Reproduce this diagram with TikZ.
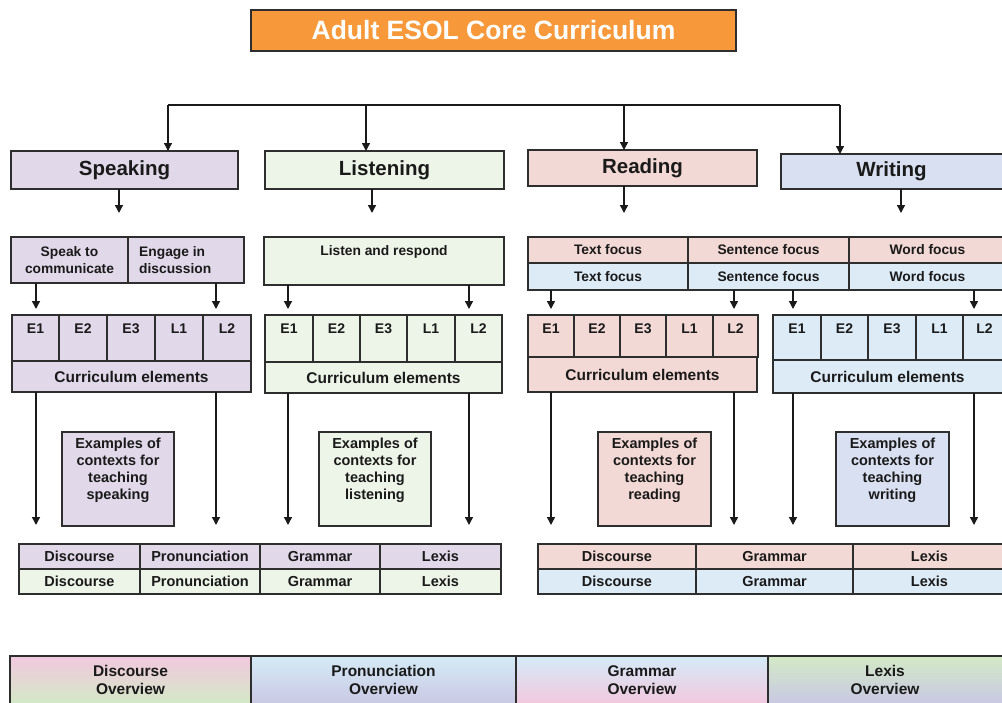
\documentclass[tikz,border=0pt]{standalone}
\usepackage{fontspec}
\setmainfont{Liberation Sans}
\usetikzlibrary{arrows.meta,fit}

\definecolor{ink}{HTML}{1A1A1A}
\definecolor{frame}{HTML}{2E2E2E}
\definecolor{orangeT}{HTML}{F7993A}
\definecolor{lav}{HTML}{E1D9EA}
\definecolor{mint}{HTML}{EDF5E9}
\definecolor{rose}{HTML}{F3D9D5}
\definecolor{peri}{HTML}{D9E0F1}
\definecolor{sky}{HTML}{DDEBF7}
\definecolor{gPink}{HTML}{F2C8DE}
\definecolor{gGreen}{HTML}{D3E9C6}
\definecolor{gSky}{HTML}{D5EBF7}
\definecolor{gLav}{HTML}{C9C8E3}

\tikzset{
  box/.style={draw=frame, line width=1.1pt, inner sep=0pt, outer sep=0pt},
  txt/.style={inner sep=0pt, text=ink, align=center},
  headtxt/.style={txt, font=\fontsize{20.5}{24}\selectfont\bfseries},
  subtxt/.style={txt, font=\fontsize{13.8}{17}\selectfont\bfseries},
  lvl/.style={txt, font=\fontsize{14}{16}\selectfont\bfseries},
  cetxt/.style={txt, font=\fontsize{15.5}{18}\selectfont\bfseries},
  extxt/.style={txt, font=\fontsize{14.5}{17}\selectfont\bfseries},
  tabtxt/.style={txt, font=\fontsize{14.5}{17}\selectfont\bfseries},
  ovtxt/.style={txt, font=\fontsize{15.5}{18}\selectfont\bfseries},
  arr/.style={draw=ink, line width=1.4pt, -{Triangle[width=8pt,length=8pt]}},
  bus/.style={draw=ink, line width=1.4pt}
}

\begin{document}
\begin{tikzpicture}[x=1pt, y=-1pt]
\useasboundingbox (0,0) rectangle (1002,702);
\fill[white] (0,0) rectangle (1002,702);

% title
\node[box, fill=orangeT, fit={(251,10)(736,51)}] (title) {};
\node[txt, text=white, font=\fontsize{26.5}{30}\selectfont\bfseries] at (title) {Adult ESOL Core Curriculum};

% the four skills
\node[box, fill=lav,  fit={(11,151)(238,189)}]   (speak)  {};
\node[box, fill=mint, fit={(265,151)(504,189)}]  (listen) {};
\node[box, fill=rose, fit={(528,150)(757,186)}]  (read)   {};
\node[box, fill=peri, fit={(781,154)(1006,189)}] (write)  {};
\node[headtxt] at (speak)  {Speaking};
\node[headtxt] at (listen) {Listening};
\node[headtxt] at (read)   {Reading};
\node[headtxt] at ([xshift=-2pt]write.center) {Writing};

% distribution bus
\coordinate (busL) at (168,105);
\coordinate (busR) at (840,105);
\coordinate (busS) at (366,105);
\coordinate (busR2) at (624,105);
\draw[bus] (busL) -- (busR);
\draw[arr] (busL)  -- (speak.north -| busL);
\draw[arr] (busS)  -- (listen.north -| busS);
\draw[arr] (busR2) -- (read.north -| busR2);
\draw[arr] (busR)  -- (write.north -| busR);

% skill -> strand arrows
\coordinate (hs) at (119,213);
\coordinate (hl) at (372,213);
\coordinate (hr) at (624,213);
\coordinate (hw) at (901,213);
\draw[arr] (speak.south -| hs)  -- (hs);
\draw[arr] (listen.south -| hl) -- (hl);
\draw[arr] (read.south -| hr)   -- (hr);
\draw[arr] (write.south -| hw)  -- (hw);

% strands
\node[box, fill=lav, fit={(11,237)(128,283)}]  (spA) {};
\node[box, fill=lav, fit={(128,237)(244,283)}] (spB) {};
\node[subtxt] at (spA) {Speak to\\communicate};
\node[subtxt, anchor=west, align=left] at (139,260) {Engage in\\discussion};
\node[box, fill=mint, fit={(264,237)(504,285)}] (liA) {};
\node[subtxt] at (384,252) {Listen and respond};
\foreach \n/\a/\b/\t in {1/528/688/Text focus, 2/688/849/Sentence focus, 3/849/1006/Word focus} {
  \node[box, fill=rose, fit={(\a,237)(\b,263)}] (rdA\n) {};
  \node[box, fill=sky,  fit={(\a,263)(\b,290)}] (rdB\n) {};
  \node[subtxt] at (rdA\n) {\t};
  \node[subtxt] at (rdB\n) {\t};
}

% strand -> level arrows
\foreach \x/\src in {36/spA, 216/spB, 288/liA, 469/liA, 551/rdB1, 734/rdB2, 793/rdB2, 974/rdB3} {
  \coordinate (lv\x) at (\x,309);
  \draw[arr] (\src.south -| lv\x) -- (lv\x);
}

% levels
\foreach \n/\a/\b in {E1/12/59, E2/59/107, E3/107/155, L1/155/203, L2/203/251} {
  \node[box, fill=lav, fit={(\a,315)(\b,361)}] (sp-\n) {};
  \node[lvl] at ([yshift=-14pt]sp-\n.north) {\n};
}
\draw[draw=frame, line width=2pt] (sp-E1.north east) -- (sp-E1.south east);
\foreach \n/\a/\b in {E1/265/313, E2/313/360, E3/360/407, L1/407/455, L2/455/502} {
  \node[box, fill=mint, fit={(\a,315)(\b,362)}] (li-\n) {};
  \node[lvl] at ([yshift=-14pt]li-\n.north) {\n};
}
\foreach \n/\a/\b in {E1/528/574, E2/574/620, E3/620/666, L1/666/713, L2/713/758} {
  \node[box, fill=rose, fit={(\a,315)(\b,357)}] (rd-\n) {};
  \node[lvl] at ([yshift=-14pt]rd-\n.north) {\n};
}
\foreach \n/\a/\b in {E1/773/821, E2/821/868, E3/868/916, L1/916/963, L2/963/1006} {
  \node[box, fill=sky, fit={(\a,315)(\b,360)}] (wr-\n) {};
  \node[lvl] at ([yshift=-14pt]wr-\n.north) {\n};
}

% curriculum elements
\node[box, fill=lav,  fit={(12,361)(251,392)}]   (spCE) {};
\node[box, fill=mint, fit={(265,362)(502,393)}]  (liCE) {};
\node[box, fill=rose, fit={(528,357)(757,392)}]  (rdCE) {};
\node[box, fill=sky,  fit={(773,360)(1006,393)}] (wrCE) {};
\foreach \c in {spCE, liCE, rdCE} {\node[cetxt] at (\c) {Curriculum elements};}
\node[cetxt] at ([xshift=-2pt]wrCE.center) {Curriculum elements};

% elements -> content arrows
\foreach \x/\src in {36/spCE, 216/spCE, 288/liCE, 469/liCE, 551/rdCE, 734/rdCE, 793/wrCE, 974/wrCE} {
  \coordinate (ct\x) at (\x,525);
  \draw[arr] (\src.south -| ct\x) -- (ct\x);
}

% contexts
\node[box, fill=lav,  fit={(62,432)(174,526)}]  (spEx) {};
\node[box, fill=mint, fit={(319,432)(431,526)}] (liEx) {};
\node[box, fill=rose, fit={(598,432)(711,526)}] (rdEx) {};
\node[box, fill=peri, fit={(836,432)(949,526)}] (wrEx) {};
\node[extxt, anchor=north] at ([yshift=-6pt]spEx.north) {Examples of\\contexts for\\teaching\\speaking};
\node[extxt, anchor=north] at ([yshift=-6pt]liEx.north) {Examples of\\contexts for\\teaching\\listening};
\node[extxt, anchor=north] at ([yshift=-6pt]rdEx.north) {Examples of\\contexts for\\teaching\\reading};
\node[extxt, anchor=north] at ([yshift=-6pt]wrEx.north) {Examples of\\contexts for\\teaching\\writing};

% content tables
\foreach \n/\a/\b/\t in {1/19/140/Discourse, 2/140/260/Pronunciation, 3/260/380/Grammar, 4/380/501/Lexis} {
  \node[box, fill=lav,  fit={(\a,544)(\b,569)}] (slT\n) {};
  \node[box, fill=mint, fit={(\a,569)(\b,594)}] (slB\n) {};
  \node[tabtxt] at (slT\n) {\t};
  \node[tabtxt] at (slB\n) {\t};
}
\foreach \n/\a/\b/\t in {1/538/696/Discourse, 2/696/853/Grammar, 3/853/1006/Lexis} {
  \node[box, fill=rose, fit={(\a,544)(\b,569)}] (rwT\n) {};
  \node[box, fill=sky,  fit={(\a,569)(\b,594)}] (rwB\n) {};
  \node[tabtxt] at (rwT\n) {\t};
  \node[tabtxt] at (rwB\n) {\t};
}

% overviews
\node[box, line width=1.3pt, top color=gPink,  bottom color=gGreen, fit={(10,656)(251,704)}]   (ovD) {};
\node[box, line width=1.3pt, top color=gSky,   bottom color=gLav,   fit={(251,656)(516,704)}]  (ovP) {};
\node[box, line width=1.3pt, top color=gSky,   bottom color=gPink,  fit={(516,656)(768,704)}]  (ovG) {};
\node[box, line width=1.3pt, top color=gGreen, bottom color=gLav,   fit={(768,656)(1006,704)}] (ovL) {};
\draw[draw=frame, line width=2pt] (ovD.north east) -- (ovD.south east);
\node[ovtxt] at (ovD) {Discourse\\Overview};
\node[ovtxt] at (ovP) {Pronunciation\\Overview};
\node[ovtxt] at (ovG) {Grammar\\Overview};
\node[ovtxt] at ([xshift=-2pt]ovL.center) {Lexis\\Overview};
\end{tikzpicture}
\end{document}
